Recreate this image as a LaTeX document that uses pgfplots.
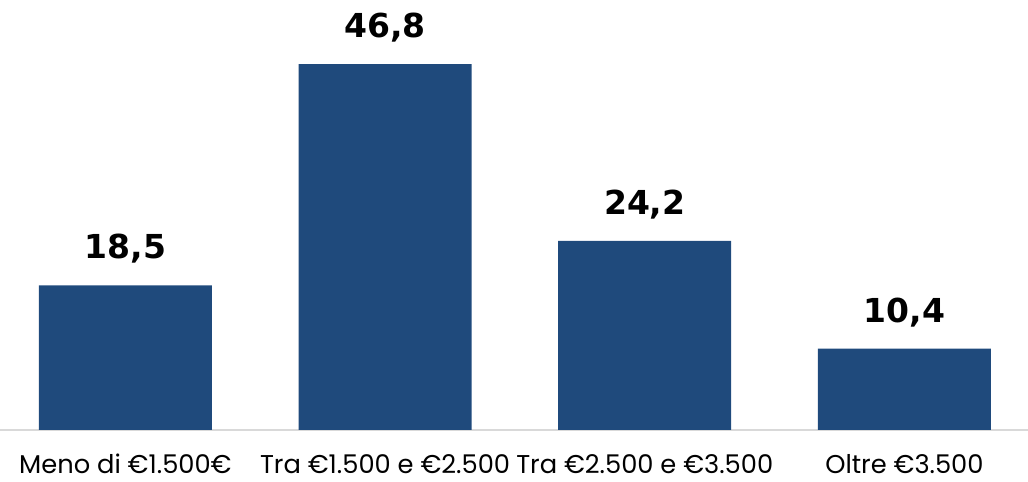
\documentclass[border=0pt]{standalone}
\usepackage{fontspec}
\setmainfont{Poppins}
\newfontfamily\valfont{DejaVu Sans}
\usepackage{pgfplots}
\pgfplotsset{compat=1.18}
\definecolor{barblue}{HTML}{1F4A7C}
\definecolor{axgray}{HTML}{D9D9D9}
\begin{document}
\begin{tikzpicture}
\begin{axis}[
  scale only axis,
  width=771pt, height=322.5pt,
  xmin=-0.483, xmax=3.476,
  ymin=0, ymax=55,
  axis y line=none,
  axis x line=bottom,
  x axis line style={-, draw=axgray, line width=1.5pt},
  xtick={0,1,2,3},
  xticklabels={{Meno di €1.500€},{Tra €1.500 e €2.500},{Tra €2.500 e €3.500},{Oltre €3.500}},
  major tick length=0pt,
  xticklabel style={anchor=base, yshift=-33pt, inner sep=0pt, text depth=0pt, font=\fontsize{19.3}{24}\selectfont, text=black},
  ybar, bar width=129.75pt, bar shift=0pt,
  point meta=explicit symbolic,
  nodes near coords,
  every node near coord/.append style={anchor=base, yshift=20pt, font=\valfont\bfseries\fontsize{24.75}{30}\selectfont, text=black},
  clip=false,
]
\addplot[fill=barblue, draw=none] coordinates {
  (0,18.5) [18,5]
  (1,46.8) [46,8]
  (2,24.2) [24,2]
  (3,10.4) [10,4]
};
\end{axis}
\pgfresetboundingbox
\useasboundingbox (current axis.south west) ++(0,-39pt) rectangle (current axis.north east);
\end{tikzpicture}
\end{document}
